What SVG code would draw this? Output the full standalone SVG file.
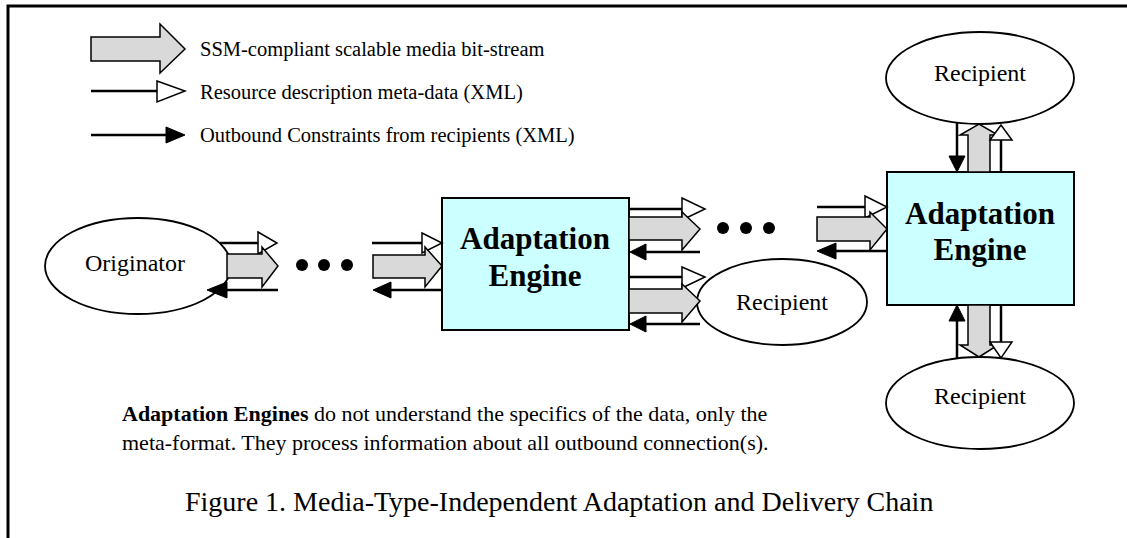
<svg xmlns="http://www.w3.org/2000/svg" width="1127" height="538" viewBox="0 0 1127 538">
<style>
  .thin { stroke:#000; stroke-width:2.5; fill:none; }
  .big { fill:#D9D9D9; stroke:#000; stroke-width:1.5; stroke-linejoin:miter; }
  .open { fill:#fff; stroke:#000; stroke-width:1.5; stroke-linejoin:miter; }
  .solid { fill:#000; stroke:#000; stroke-width:1; }
  .node { fill:#fff; stroke:#000; stroke-width:1.8; }
  .engine { fill:#CCFFFF; stroke:#000; stroke-width:2; }
  .dot { fill:#000; }
  .t { font-family:"Liberation Serif","Times New Roman",serif; fill:#000; }
  .lbl { font-family:"Liberation Serif","Times New Roman",serif; font-size:24px; text-anchor:middle; fill:#000; }
  .eng { font-family:"Liberation Serif","Times New Roman",serif; font-size:31px; font-weight:bold; text-anchor:middle; fill:#000; }
</style>
<rect width="1127" height="538" fill="#fff"/>
<path d="M8,538 V6 H1127" fill="none" stroke="#000" stroke-width="3"/>

<g id="legend">
  <polygon class="big" points="91,37 160,37 160,24 185,49 160,73 160,61 91,61"/>
  <line class="thin" x1="91" y1="91" x2="157" y2="91"/>
  <polygon class="open" points="157,81 185,91 157,102"/>
  <line class="thin" x1="91" y1="135" x2="166" y2="135"/>
  <polygon class="solid" points="166,127 185,135 166,143"/>
  <text class="t" x="200" y="56" font-size="20.5">SSM-compliant scalable media bit-stream</text>
  <text class="t" x="200" y="99" font-size="20.5">Resource description meta-data (XML)</text>
  <text class="t" x="200" y="142" font-size="20.5">Outbound Constraints from recipients (XML)</text>
</g>

<g id="originator">
  <ellipse class="node" cx="138" cy="266" rx="93" ry="48"/>
  <text class="lbl" x="135" y="271" font-size="26">Originator</text>
</g>

<g id="engine1">
  <rect class="engine" x="442" y="198" width="187" height="132"/>
  <text class="eng" x="535" y="249">Adaptation</text>
  <text class="eng" x="535" y="286">Engine</text>
</g>

<g id="recipient-mid">
  <ellipse class="node" cx="782" cy="302" rx="85" ry="43"/>
  <text class="lbl" x="782" y="310">Recipient</text>
</g>

<g id="engine2">
  <rect class="engine" x="887" y="172" width="187" height="133"/>
  <text class="eng" x="980" y="224">Adaptation</text>
  <text class="eng" x="980" y="260">Engine</text>
</g>

<g id="recipient-top">
  <ellipse class="node" cx="980" cy="78" rx="94" ry="46"/>
  <text class="lbl" x="980" y="81">Recipient</text>
</g>

<g id="recipient-bottom">
  <ellipse class="node" cx="980" cy="403" rx="94" ry="46"/>
  <text class="lbl" x="980" y="404">Recipient</text>
</g>

<g id="connectors">
  <!-- Originator outbound -->
  <line class="thin" x1="220" y1="243" x2="258" y2="243"/>
  <polygon class="open" points="258,232 277,243 258,254"/>
  <polygon class="big" points="227,254 262,254 262,247 278,266 262,287 262,278 227,278"/>
  <line class="thin" x1="278" y1="290" x2="226" y2="290"/>
  <polygon class="solid" points="227,282 207,290 227,298"/>
  <circle class="dot" cx="302" cy="265" r="6"/>
  <circle class="dot" cx="324" cy="265" r="6"/>
  <circle class="dot" cx="347" cy="265" r="6"/>

  <!-- Into engine 1 -->
  <line class="thin" x1="372" y1="243" x2="422" y2="243"/>
  <polygon class="open" points="422,233 442,243 422,253"/>
  <polygon class="big" points="373,255 425,255 425,247 442,266 425,287 425,278 373,278"/>
  <line class="thin" x1="443" y1="290" x2="390" y2="290"/>
  <polygon class="solid" points="391,282 373,290 391,298"/>

  <!-- Engine 1 out, upper -->
  <line class="thin" x1="629" y1="209" x2="682" y2="209"/>
  <polygon class="open" points="682,198 705,209 682,220"/>
  <polygon class="big" points="629,217 682,217 682,212 700,229 682,250 682,240 629,240"/>
  <line class="thin" x1="700" y1="252" x2="645" y2="252"/>
  <polygon class="solid" points="646,244 630,252 646,260"/>
  <circle class="dot" cx="723" cy="228" r="6"/>
  <circle class="dot" cx="746" cy="228" r="6"/>
  <circle class="dot" cx="769" cy="228" r="6"/>

  <!-- Engine 1 out, lower to recipient -->
  <line class="thin" x1="629" y1="277" x2="682" y2="277"/>
  <polygon class="open" points="682,267 705,277 682,288"/>
  <polygon class="big" points="629,289 682,289 682,284 700,301 682,322 682,313 629,313"/>
  <line class="thin" x1="700" y1="324" x2="645" y2="324"/>
  <polygon class="solid" points="646,316 630,324 646,332"/>

  <!-- Into engine 2 -->
  <line class="thin" x1="817" y1="207" x2="865" y2="207"/>
  <polygon class="open" points="865,196 887,207 865,218"/>
  <polygon class="big" points="817,217 870,217 870,212 887,229 870,250 870,241 817,241"/>
  <line class="thin" x1="887" y1="251" x2="835" y2="251"/>
  <polygon class="solid" points="836,243 817,251 836,259"/>

  <!-- Engine 2 up to top recipient -->
  <line class="thin" x1="957" y1="123" x2="957" y2="157"/>
  <polygon class="solid" points="949,156 965,156 957,172"/>
  <polygon class="big" points="968,172 968,135 960,135 979,124 998,135 990,135 990,172"/>
  <line class="thin" x1="1001" y1="172" x2="1001" y2="140"/>
  <polygon class="open" points="990,140 1001,125 1012,140"/>

  <!-- Engine 2 down to bottom recipient -->
  <line class="thin" x1="957" y1="358" x2="957" y2="320"/>
  <polygon class="solid" points="949,321 957,305 965,321"/>
  <polygon class="big" points="968,305 968,345 960,345 979,357 998,345 990,345 990,305"/>
  <line class="thin" x1="1001" y1="305" x2="1001" y2="342"/>
  <polygon class="open" points="990,342 1001,358 1012,342"/>
</g>

<g id="notes">
  <text class="t" x="122" y="421" font-size="22"><tspan font-weight="bold">Adaptation Engines</tspan> do not understand the specifics of the data, only the</text>
  <text class="t" x="122" y="450" font-size="22">meta-format. They process information about all outbound connection(s).</text>
  <text class="t" x="185" y="511" font-size="28">Figure 1. Media-Type-Independent Adaptation and Delivery Chain</text>
</g>
</svg>
